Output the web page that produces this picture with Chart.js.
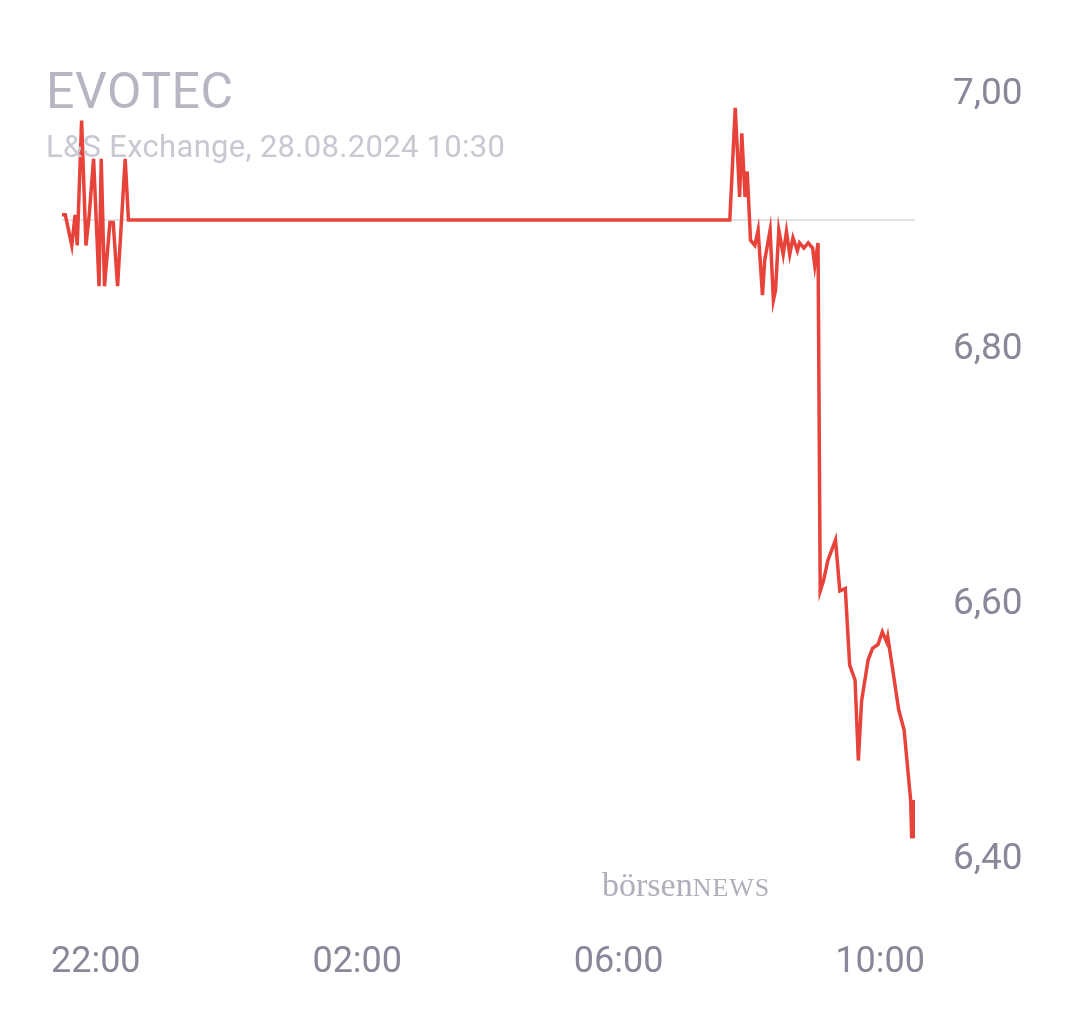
<!DOCTYPE html>
<html><head><meta charset="utf-8">
<script src="https://cdn.jsdelivr.net/npm/chart.js@4"></script>
<style>
html,body{margin:0;padding:0;background:#fff;}
#wrap{position:relative;width:1080px;height:1013px;}
#t{position:absolute;left:46px;top:62px;font:400 50px Roboto,sans-serif;color:#b7b5c2;letter-spacing:0.5px;}
#s{position:absolute;left:46px;top:128px;font:400 31px Roboto,sans-serif;color:#c9c7d1;letter-spacing:0.3px;}
#w{position:absolute;left:602px;top:866px;font:400 34px "Liberation Serif",serif;color:#b0aebb;}
#w span{font-size:26px;letter-spacing:1px;}
</style></head><body>
<div id="wrap"><canvas id="c" width="1080" height="1013"></canvas>
<div id="t">EVOTEC</div><div id="s">L&amp;S Exchange, 28.08.2024 10:30</div>
<div id="w">börsen<span>NEWS</span></div></div>
<script>
// minutes after 21:00 (27.08.2024)
const times=[29,32,38,41,43,47,51,54,58,63,65,68,73,76,80,87,90,642,647,651,653,656,658,661,665,668,672,674,679,682,684,687,691,694,697,700,704,706,710,714,718,720,723,725,728,732,739,743,748,752,757,760,763,769,773,778,782,786,787,793,797,802,808,809,811,812];
const prices=[6.906,6.906,6.882,6.906,6.882,6.98,6.882,6.906,6.95,6.85,6.95,6.85,6.90,6.90,6.85,6.95,6.902,6.902,6.99,6.92,6.97,6.92,6.94,6.886,6.882,6.894,6.843,6.87,6.894,6.839,6.847,6.894,6.875,6.893,6.875,6.888,6.878,6.884,6.880,6.884,6.880,6.866,6.884,6.611,6.619,6.635,6.651,6.611,6.613,6.553,6.541,6.478,6.525,6.557,6.566,6.569,6.579,6.571,6.575,6.541,6.518,6.502,6.447,6.417,6.447,6.417];
const refPrice=6.902;
const tickTimes=[60,300,540,780];
const tickLabels=["22:00","02:00","06:00","10:00"];
const yTicks=[6.4,6.6,6.8,7.0];
new Chart(document.getElementById('c'),{type:'line',
data:{datasets:[
{data:times.map((t,i)=>({x:t,y:prices[i]})),borderColor:'#e8433a',borderWidth:3.5,pointRadius:0,tension:0,order:1},
{data:[{x:29,y:refPrice},{x:812,y:refPrice}],borderColor:'#e2e2e6',borderWidth:2,pointRadius:0,order:2}
]},
options:{responsive:false,animation:false,events:[],
layout:{padding:{top:95,left:62,right:0,bottom:0}},
plugins:{legend:{display:false},tooltip:{enabled:false}},
scales:{
x:{type:'linear',min:29,max:812,grid:{display:false},border:{display:false},
afterBuildTicks:a=>{a.ticks=tickTimes.map(v=>({value:v}));},
afterFit:a=>{a.height=153;a.paddingLeft=0;a.paddingRight=0;},
ticks:{autoSkip:false,maxRotation:0,padding:73,color:'#8a8798',font:{family:'Roboto',size:36},
callback:v=>tickLabels[tickTimes.indexOf(v)]}},
y:{position:'right',min:6.4,max:7.0,grid:{display:false},border:{display:false},
afterBuildTicks:a=>{a.ticks=yTicks.map(v=>({value:v}));},
afterFit:a=>{a.width=165;a.paddingTop=0;a.paddingBottom=0;},
ticks:{padding:30,color:'#8a8798',font:{family:'Roboto',size:37},callback:v=>v.toFixed(2).replace('.',',')}}
}}});
</script></body></html>
